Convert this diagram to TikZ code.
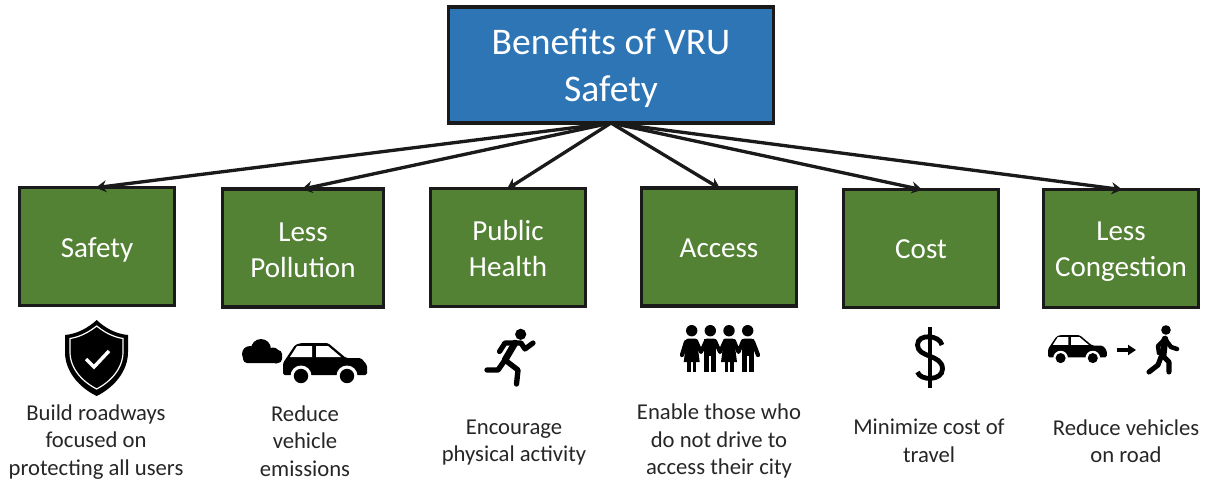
\documentclass[tikz,border=0pt]{standalone}
\usepackage{fontspec}
\setmainfont{Carlito}
\usetikzlibrary{arrows.meta}
\definecolor{rootblue}{HTML}{2E75B6}
\definecolor{boxgreen}{HTML}{548235}
\definecolor{edgeink}{HTML}{1A1A1A}
\definecolor{labelink}{HTML}{262626}
\newcommand{\nudge}[1]{\rule{0pt}{#1}}
\tikzset{
  rootbox/.style={draw=edgeink,fill=rootblue,line width=2.4pt,text=white,align=center,font=\fontsize{28.2}{35}\selectfont,minimum width=243.5pt,minimum height=87pt,inner sep=0pt,outer sep=0pt},
  greenbox/.style={draw=edgeink,fill=boxgreen,line width=2.4pt,text=white,align=center,font=\fontsize{21.8}{27}\selectfont,minimum width=116pt,minimum height=88.5pt,inner sep=0pt,outer sep=0pt},
  caption/.style={text=labelink,align=center,font=\fontsize{17}{20.6}\selectfont,inner sep=0pt},
  link/.style={draw=edgeink,line width=2.5pt,-{Stealth[length=8pt,width=9pt]},shorten >=-1pt},
  limb/.style={draw=black,line cap=round,line join=round,fill=none},
}
\newcommand{\carglyph}[2]{%
  \begin{scope}[shift={#1},scale=#2]
    \fill[black,rounded corners=1.2] (0,32) -- (0,20) -- (12,2) -- (18,0) -- (45,0) -- (63,15) -- (78,15) -- (84,22) -- (84,32) -- cycle;
    \fill[white] (7,14) -- (14,3) -- (29,3) -- (29,14) -- cycle;
    \fill[white] (33,3) -- (45,3) -- (58,14) -- (33,14) -- cycle;
    \fill[white] (18,33) circle (10.5) (64,33) circle (10.5);
    \fill[black] (18,33) circle (7.2) (64,33) circle (7.2);
  \end{scope}}
\begin{document}
\begin{tikzpicture}[x=0.75pt,y=-0.75pt]
\useasboundingbox (0,0) rectangle (1207,482);
\node[rootbox] (root) at (611,65) {\nudge{24.5pt}Benefits of VRU\\Safety};
\node[greenbox] (safety) at (97,246.5) {\nudge{19.5pt}Safety};
\node[greenbox,minimum width=121pt] (pollution) at (303,248) {\nudge{17pt}Less\\Pollution};
\node[greenbox] (health) at (508,247.5) {\nudge{17pt}Public\\Health};
\node[greenbox] (access) at (719,247) {\nudge{16pt}Access};
\node[greenbox] (cost) at (921,248.5) {\nudge{15pt}Cost};
\node[greenbox] (congestion) at (1121,248.5) {\nudge{18pt}Less\\Congestion};
\foreach \t in {safety,pollution,health,access,cost,congestion}
  \draw[link] (root.south) -- (\t.north);
\node[caption] (capa) at (96,442) {Build roadways\\focused on\\protecting all users};
\node[caption] (capb) at (305,441) {Reduce\\vehicle\\emissions};
\node[caption] (capc) at (514,442.5) {Encourage\\physical activity};
\node[caption] (capd) at (719,441) {Enable those who\\do not drive to\\access their city};
\node[caption] (cape) at (929,441) {Minimize cost of\\travel};
\node[caption] (capf) at (1126,441) {Reduce vehicles\\on road};
% shield
\fill[black] (96.7,320) .. controls (105,328) and (116,334) .. (128,335) -- (128,352) .. controls (128,372) and (113,388) .. (96.7,396) .. controls (80,388) and (65,372) .. (65,352) -- (65,335) .. controls (77,334) and (88,328) .. (96.7,320) -- cycle;
\draw[white,line width=0.9pt] (96.7,326) .. controls (104,332) and (113,337) .. (123,338.5) -- (123,352) .. controls (123,369) and (110,382) .. (96.7,389) .. controls (83,382) and (70,369) .. (70,352) -- (70,338.5) .. controls (80,337) and (89,332) .. (96.7,326) -- cycle;
\draw[white,line width=2.6pt,line join=miter] (86,359) -- (94,367) -- (109,351);
% cloud and car
\fill[black] (250,354) circle (8) (261,349) circle (10) (273,354) circle (6.5) (276,358) circle (5.5);
\fill[black,rounded corners=3] (243,350) rectangle (282,363);
\carglyph{(283,343)}{1}
% runner
\fill[black] (520.7,334.3) circle (5.6);
\draw[limb,line width=3.9pt] (499.5,351.5) -- (505,343) -- (521,343) -- (525,349) -- (533,343);
\draw[limb,line width=5pt] (515,343) -- (505,360);
\draw[limb,line width=4pt] (505,360) -- (518,370) -- (516.5,384);
\draw[limb,line width=4pt] (505,360) -- (498,370) -- (487,370);
% family
\foreach \hx/\kind in {691.7/0,710.3/1,729/0,747.7/1}{
  \fill[black] (\hx,330.7) circle (5.7);
  \fill[black,rounded corners=2] (\hx-6,338.5) rectangle (\hx+6,345);
  \ifnum\kind=0
    \fill[black] (\hx-5,339) -- (\hx+5,339) -- (\hx+8,362) -- (\hx-8,362) -- cycle;
    \fill[black] (\hx-4.5,360) rectangle (\hx-1,372);
    \fill[black] (\hx+1,360) rectangle (\hx+4.5,372);
  \else
    \fill[black] (\hx-6,339) rectangle (\hx+6,356);
    \fill[black] (\hx-6,355) rectangle (\hx-1,372);
    \fill[black] (\hx+1,355) rectangle (\hx+6,372);
  \fi
}
\draw[limb,line width=3.2pt] (686,342) -- (682,355);
\draw[limb,line width=3.2pt] (753,342) -- (758,355);
\draw[limb,line width=3pt] (696,341) -- (701,352) -- (706,341);
\draw[limb,line width=3pt] (715,341) -- (720,352) -- (725,341);
\draw[limb,line width=3pt] (734,341) -- (738.5,352) -- (743,341);
% dollar
\draw[black,line width=3pt,line cap=butt] (929.5,327) -- (929.5,388);
\draw[black,line width=3.6pt] (942,345) .. controls (940,335) and (917.5,333) .. (917.5,345) .. controls (917.5,358) and (942.5,354) .. (942.5,369) .. controls (942.5,381) and (920,381) .. (917.5,372);
% car, arrow, walker
\carglyph{(1048,335)}{0.7}
\draw[black,line width=2.6pt,-{Triangle[length=6pt,width=7.5pt]}] (1116.5,350) -- (1136,350);
\fill[black] (1166,330) circle (4.8);
\draw[limb,line width=5pt] (1165,339) -- (1163,356);
\draw[limb,line width=3.4pt] (1165,339) -- (1158,346) -- (1159,353);
\draw[limb,line width=3.4pt] (1165,339) -- (1171,347) -- (1177,349);
\draw[limb,line width=3.8pt] (1163,356) -- (1169,362) -- (1169,372);
\draw[limb,line width=3.8pt] (1161,357) -- (1158,365) -- (1149,372);
\end{tikzpicture}
\end{document}
